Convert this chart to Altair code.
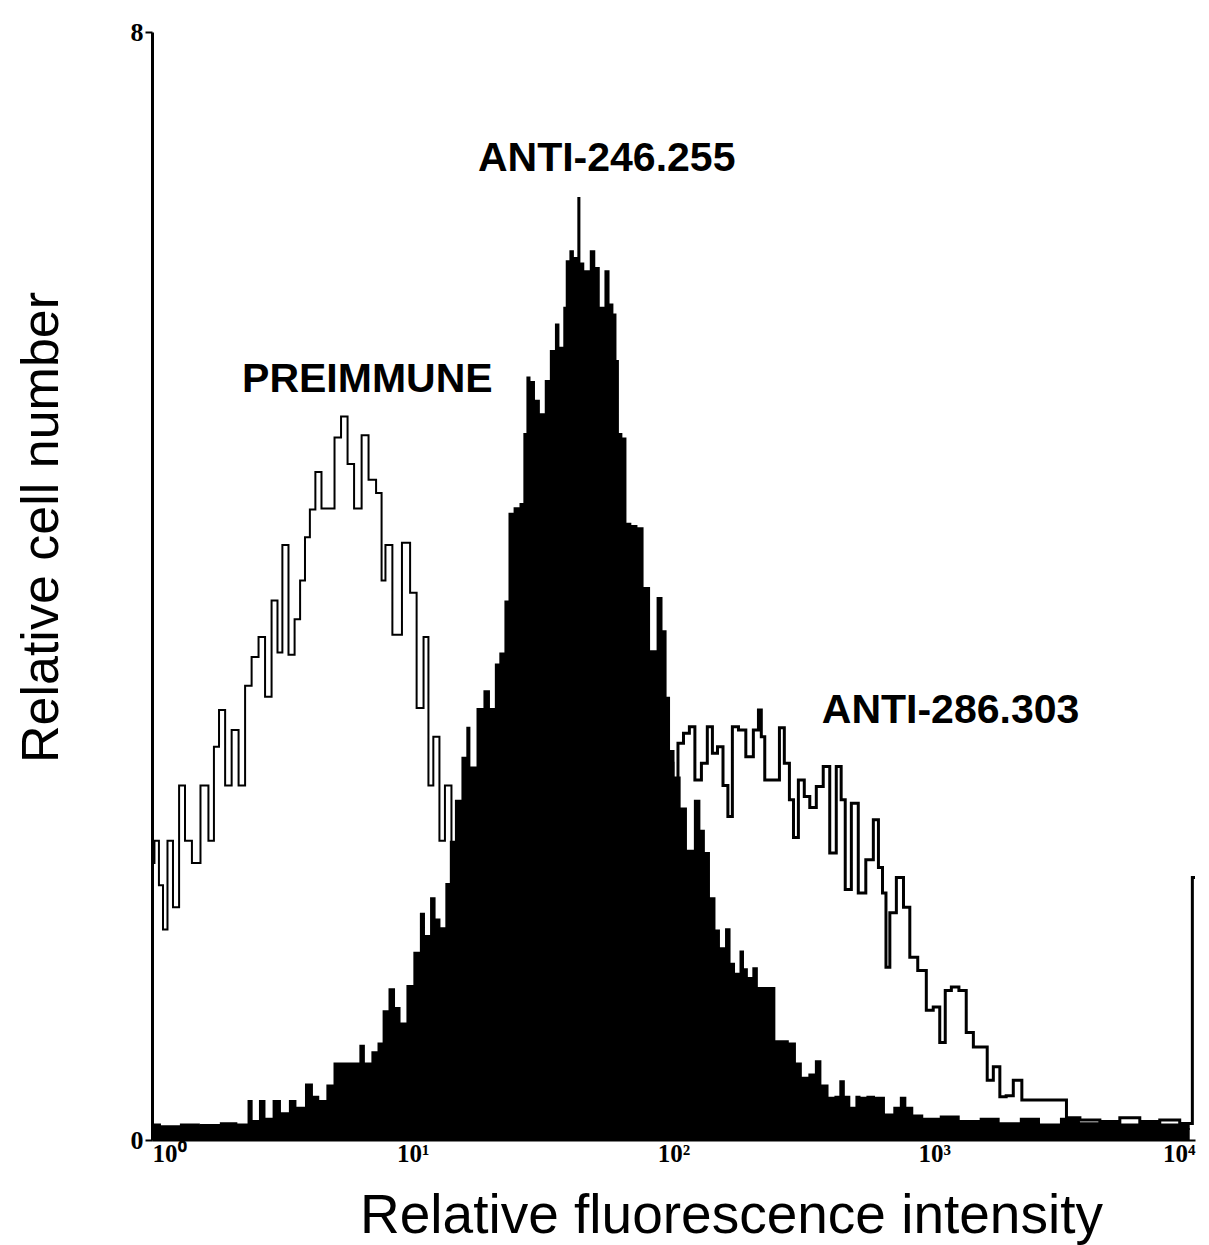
import altair as alt
import pandas as pd

# Channel positions (0-256 over four decades) and relative cell counts (% of axis)
pre_ch = [0, 1.2, 2.2, 3.2, 4.4, 5.9, 7.4, 8.8, 10.8, 13.0, 14.7, 15.7, 17.2, 18.7, 20.4, 22.1,
          23.6, 25.3, 27.0, 28.5, 30.2, 31.4, 32.6, 34.4, 35.6, 37.1, 38.0, 39.5, 40.7, 42.5,
          44.2, 45.4, 47.4, 48.6, 50.6, 52.3, 54.0, 56.0, 56.7, 57.9, 60.1, 62.6, 64.1, 65.8,
          67.5, 68.2, 69.9, 71.2, 72.6, 74.4, 76.8, 80.5, 85.4, 90.3, 96.4, 102.6, 110.0,
          122.3, 134.6, 159.0, 183.6, 208.1, 232.6, 254.7]
pre_v = [25, 27, 23, 19, 27, 21, 32, 27, 25, 32, 27, 35.5, 38.8, 32, 37, 32, 41, 43.6, 45.4,
         40, 48.7, 44, 53.7, 43.8, 47, 50.5, 54.4, 56.9, 60.3, 57, 57, 63.4, 65.3, 61, 57,
         63.6, 59.6, 58.4, 50.5, 53.7, 45.6, 53.9, 49.4, 39, 45.4, 32, 36.4, 27, 32, 26, 22,
         17, 11, 7, 4, 2.5, 1.5, 1.2, 1.5, 1.2, 1.3, 1.0, 1.2, 1.0]

a246_ch = [0, 4.4, 9.3, 14.2, 19.1, 22.8, 24.1, 25.3, 27.2, 28.5,
           30.7, 32.6, 34.6, 36.3, 38.8, 40.2, 41.9, 43.7, 45.4, 48.6,
           50.3, 51.5, 53.0, 54.7, 56.0, 57.2, 58.9, 60.4, 61.6, 63.3,
           65.0, 66.5, 67.5, 69.0, 70.2, 71.4, 72.6, 73.6, 75.1, 76.8,
           77.5, 78.8, 80.5, 82.2, 83.7, 84.6, 85.9, 87.1, 87.9, 89.6,
           90.8, 91.5, 92.3, 93.5, 94.5, 95.9, 96.9, 98.4, 99.4, 100.6,
           101.3, 101.8, 103.1, 104.0, 104.8, 105.5, 106.7, 108.2, 109.4, 110.4,
           111.7, 112.9, 113.6, 114.4, 114.8, 116.1, 116.8, 118.5, 119.8, 121.5,
           123.0, 124.7, 125.9, 126.7, 127.6, 128.9, 130.6, 132.0, 134.0, 135.2,
           136.2, 137.7, 138.9, 139.9, 141.4, 142.6, 143.6, 144.8, 145.8, 146.7,
           148.0, 149.4, 150.9, 152.4, 153.6, 155.3, 157.3, 158.8, 160.2, 162.0,
           163.4, 165.2, 166.9, 168.1, 169.3, 170.8, 172.0, 173.3, 174.5, 176.2,
           178.7, 181.1, 182.8, 184.3, 186.0, 187.7, 190.9, 195.8, 200.7, 205.6,
           210.5, 215.5, 220.4, 225.3, 230.2, 235.1, 240.0, 244.9, 249.8, 254.7]
a246_v = [1.5, 1.2, 1.5, 1.3, 1.6, 1.5, 3.6, 1.8, 3.6, 2,
          3.6, 2.5, 3.6, 3, 5.1, 4, 3.6, 5, 7, 7,
          7, 8.6, 7, 8, 8.8, 11.7, 13.7, 12, 10.6, 14,
          17, 20.5, 18.5, 21.9, 20, 19.2, 23.2, 27, 30.7, 34.6,
          37.3, 33.7, 39, 40.6, 39, 43, 44, 48.7, 56.6, 57.1,
          57.5, 63.8, 68.9, 68.5, 66.8, 65.6, 68.6, 71.3, 73.7, 71.6,
          75.2, 79.4, 80.3, 79.7, 85.1, 79.2, 78.5, 80.3, 78.8, 75.2,
          78.5, 75.5, 74.6, 70.4, 63.8, 63.4, 55.7, 55.5, 55.3, 49.9,
          44.2, 49, 46, 40, 35.2, 32.8, 30, 26.2, 30.7, 28,
          26, 21.9, 19, 17.4, 19.1, 16, 15.1, 17.1, 15.5, 14.7,
          15.6, 13.8, 13.8, 13.8, 9, 9, 8.8, 7, 5.7, 6,
          7.2, 5, 3.9, 4, 5.4, 4, 3, 4, 3.9, 4,
          3.9, 2.4, 3, 3.9, 3, 2.3, 2, 2.2, 1.8, 2,
          1.6, 2, 1.5, 2, 1.6, 1.8, 1.5, 1.8, 1.5, 1.6]

a286_ch = [0, 24.1, 43.7, 56.0, 65.8, 73.1, 85.4, 97.6, 110.0, 119.8,
           125.9, 127.1, 128.6, 129.6, 131.3, 132.5, 134.0, 135.7, 136.9, 138.2,
           139.4, 140.9, 141.8, 143.1, 144.8, 146.7, 148.5, 149.2, 149.9, 150.9,
           153.4, 154.6, 155.8, 157.1, 157.8, 159.5, 160.7, 162.2, 163.9, 165.6,
           167.1, 168.8, 169.5, 170.8, 172.5, 174.2, 176.2, 177.9, 178.7, 179.9,
           180.4, 181.8, 183.6, 185.3, 186.7, 189.2, 190.9, 192.6, 194.1, 195.3,
           197.1, 199.0, 200.7, 202.5, 204.4, 205.6, 207.4, 208.8, 210.5, 212.3,
           214.7, 217.9, 220.4, 223.6, 225.3, 230.2, 235.1, 240.0, 244.9, 249.8,
           254.7, 256.0]
a286_v = [1.2, 1.3, 2, 4, 7, 10, 15, 22, 28, 32,
          34, 34, 31, 35.8, 36.7, 37.3, 32.5, 34, 37.3, 34.9,
          35.5, 32, 29.2, 37.3, 37, 34.6, 37, 38.8, 36.4, 32.5,
          32.5, 37.2, 34, 30.7, 27.3, 32.5, 31, 30, 31.9, 33.7,
          25.9, 33.7, 30.7, 22.6, 30.4, 22.3, 25.3, 28.9, 24.6, 22.3,
          15.6, 20.5, 23.7, 21, 16.5, 15.3, 11.7, 12, 8.8, 13.5,
          13.8, 13.5, 9.7, 8.4, 8.4, 5.4, 6.6, 3.9, 4, 5.4,
          3.6, 3.6, 3.6, 3.6, 2, 1.8, 1.5, 2, 1.5, 1.8,
          1.5, 23.7]

label_text = ["PREIMMUNE", "ANTI-246.255", "ANTI-286.303"]
label_ch = [22.1, 80.0, 164.4]
label_v = [67.5, 87.5, 37.6]


def frame(ch, v):
    return pd.DataFrame({"fl": [10 ** (c / 64) for c in ch], "count": v})


pre = frame(pre_ch, pre_v)
a246 = frame(a246_ch, a246_v)
a286 = frame(a286_ch, a286_v)
labels = pd.DataFrame({"fl": [10 ** (c / 64) for c in label_ch], "count": label_v, "text": label_text})

xscale = alt.Scale(type="log", domain=[1, 10000], nice=False)
yscale = alt.Scale(domain=[0, 100], nice=False)

x_axis = alt.Axis(
    values=[1, 10, 100, 1000, 10000],
    labelExpr="datum.value == 1 ? '10⁰' : datum.value == 10 ? '10¹' : datum.value == 100 ? '10²' : datum.value == 1000 ? '10³' : '10⁴'",
    title="Relative fluorescence intensity",
    titleFontSize=55, titleFontWeight="normal", titleFont="Liberation Sans",
    titleX=579, titleY=92, titleBaseline="alphabetic", titleAlign="center",
    labelFont="Liberation Serif", labelFontSize=25, labelFontWeight="bold",
    labelColor="black", labelPadding=1, ticks=False, grid=False,
    domainColor="black", domainWidth=2,
)
y_axis = alt.Axis(
    values=[0, 100],
    labelExpr="datum.value == 0 ? '0' : '8'",
    title="Relative cell number",
    titleFontSize=52, titleFontWeight="normal", titleFont="Liberation Sans",
    titleX=-95, titleY=495, titleBaseline="alphabetic", titleAlign="center", titleAngle=270,
    labelFont="Liberation Serif", labelFontSize=26, labelFontWeight="bold",
    labelColor="black", tickColor="black", tickSize=7, tickWidth=2, labelPadding=2,
    grid=False, domainColor="black", domainWidth=3,
)

pre_line = alt.Chart(pre).mark_line(interpolate="step", color="black", strokeWidth=2, clip=True).encode(
    x=alt.X("fl:Q", scale=xscale, axis=x_axis),
    y=alt.Y("count:Q", scale=yscale, axis=y_axis),
)
a286_line = alt.Chart(a286).mark_line(interpolate="step", color="black", strokeWidth=3, clip=True).encode(
    x=alt.X("fl:Q", scale=xscale),
    y=alt.Y("count:Q", scale=yscale),
)
a246_area = alt.Chart(a246).mark_area(interpolate="step", color="black", opacity=1, clip=True).encode(
    x=alt.X("fl:Q", scale=xscale),
    y=alt.Y("count:Q", scale=yscale),
)
text = alt.Chart(labels).mark_text(
    align="left", baseline="alphabetic", fontSize=41, fontWeight="bold",
    font="Liberation Sans", color="black",
).encode(
    x=alt.X("fl:Q", scale=xscale),
    y=alt.Y("count:Q", scale=yscale),
    text="text:N",
)

chart = alt.layer(pre_line, a286_line, a246_area, text).properties(
    width=1043, height=1108,
    autosize=alt.AutoSizeParams(type="none"),
    padding={"left": 152, "top": 32, "right": 14, "bottom": 105},
    background="white",
).configure_view(stroke=None)

chart.save("out.html", embed_options={"renderer": "svg", "actions": False})
